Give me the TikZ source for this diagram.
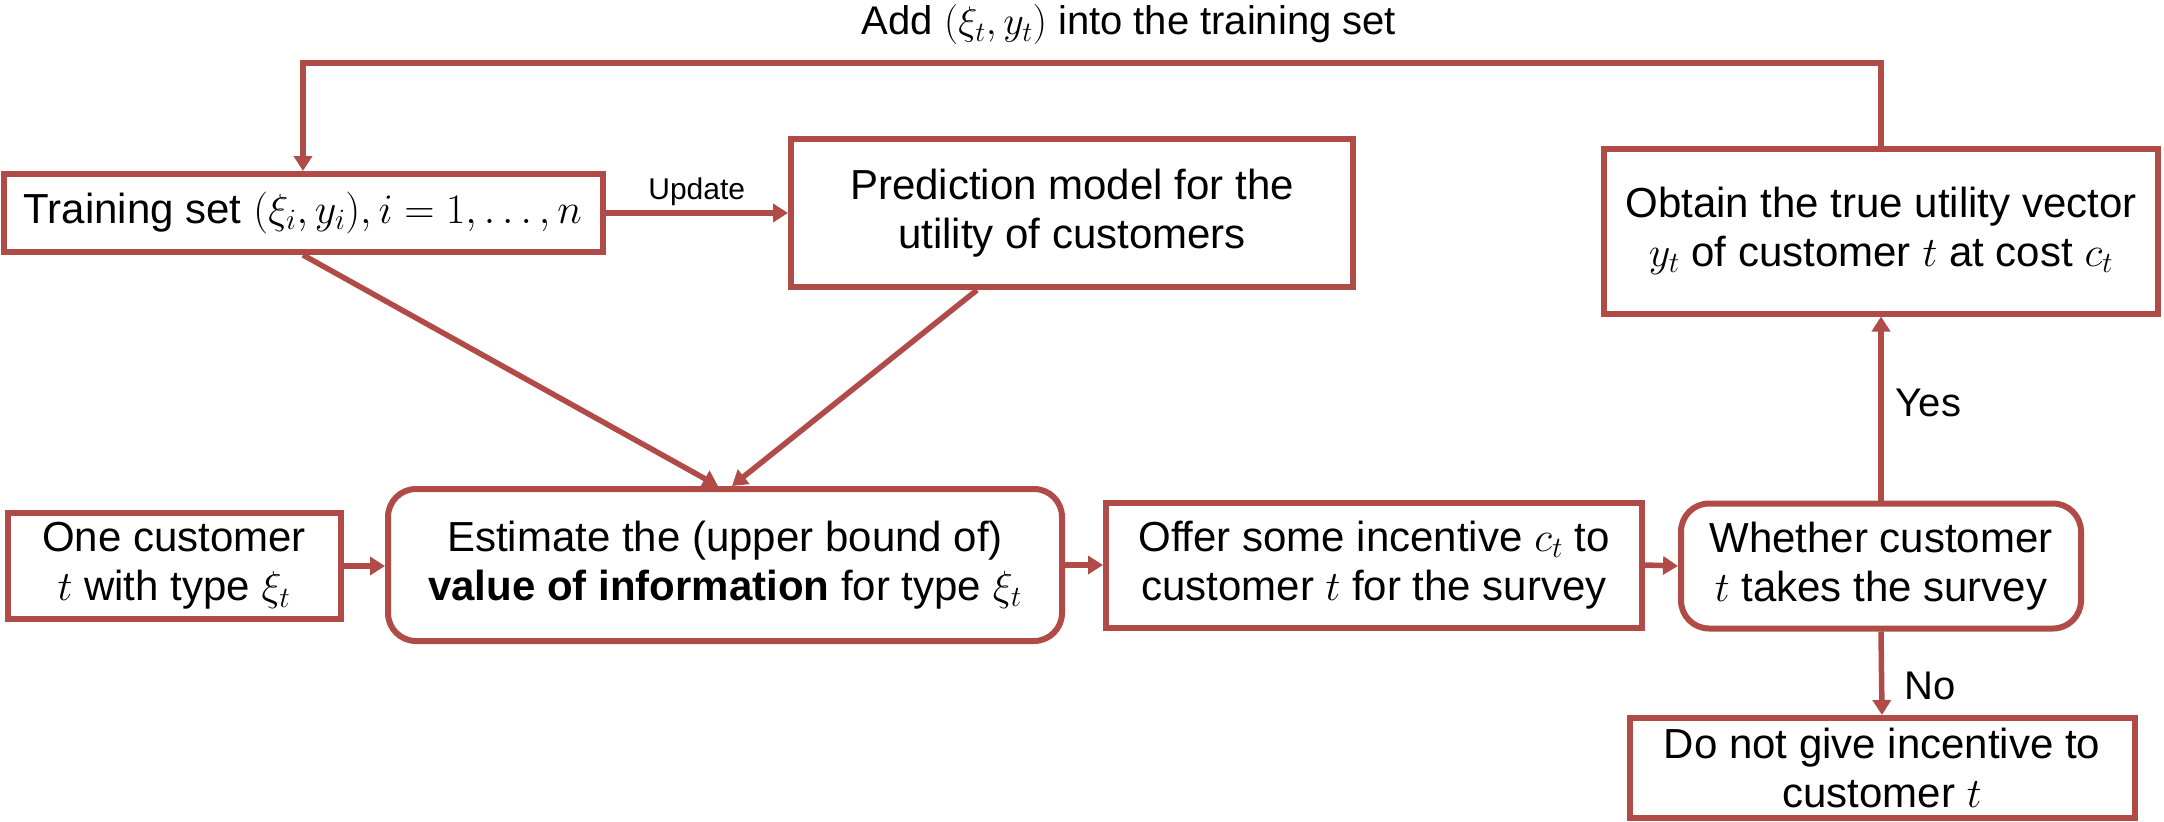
\RequirePackage{fix-cm}
\documentclass[tikz,border=0pt]{standalone}
\usepackage{fontspec}
\setmainfont{Liberation Sans}
\usetikzlibrary{arrows.meta,calc}
\definecolor{myred}{RGB}{176,75,72}
\tikzset{
  box/.style={draw=myred, line width=6pt, fill=white, align=center, inner sep=0pt,
    font=\fontsize{42}{49}\selectfont},
  rbox/.style={box, rounded corners=28pt},
  arr/.style={draw=myred, line width=5.5pt, -{Triangle[length=15pt,width=18pt]}},
  lbl/.style={font=\fontsize{40}{46}\selectfont, inner sep=0pt},
}
\begin{document}
\begin{tikzpicture}[x=1pt,y=-1pt]
\useasboundingbox (0,0) rectangle (2164,822);
\node[box, minimum width=599pt, minimum height=78pt] (train) at (303,213) {Training set $(\xi_i, y_i), i = 1, \ldots, n$};
\node[box, minimum width=562pt, minimum height=148pt] (pred) at (1072,213) {Prediction model for the\\utility of customers};
\node[box, minimum width=554pt, minimum height=165pt] (obtain) at (1881,231) {Obtain the true utility vector\\$y_t$ of customer $t$ at cost $c_t$};
\node[box, minimum width=333pt, minimum height=106pt] (one) at (174,566) {One customer\\$t$ with type $\xi_t$};
\node[rbox, minimum width=674pt, minimum height=152pt] (est) at (725,565) {Estimate the (upper bound of)\\\textbf{value of information} for type $\xi_t$};
\node[box, minimum width=536pt, minimum height=125pt] (offer) at (1374,565) {Offer some incentive $c_t$ to\\customer $t$ for the survey};
\node[rbox, minimum width=400pt, minimum height=125pt] (whether) at (1881,566) {Whether customer\\$t$ takes the survey};
\node[box, minimum width=505pt, minimum height=100pt] (donot) at (1882,768) {Do not give incentive to\\customer $t$};

\node[lbl] (addlbl) at (1129,25) {Add $(\xi_t, y_t)$ into the training set};
\coordinate (tl) at (303,63);

\draw[arr] (obtain.north) |- (tl) -- (tl |- train.north);
\draw[arr] (train.east) -- node[midway, yshift=21pt, font=\fontsize{30}{34}\selectfont, inner sep=0pt] (upd) {Update} (train.east -| pred.west);
\draw[arr] (train.south) -- ([xshift=-7pt]est.north);
\draw[arr] ([xshift=-95pt]pred.south) -- ([xshift=7pt]est.north);
\draw[arr] (one.east) -- (one.east -| est.west);
\draw[arr] (est.east) -- (offer.west);
\draw[arr] (offer.east) -- (whether.west);
\draw[arr] (whether.north) -- node[lbl, pos=0.53, anchor=west, xshift=12pt] (yes) {Yes} (obtain.south);
\draw[arr] (whether.south) -- node[lbl, pos=0.65, anchor=west, xshift=20pt] (no) {No} (donot.north);
\end{tikzpicture}
\end{document}
